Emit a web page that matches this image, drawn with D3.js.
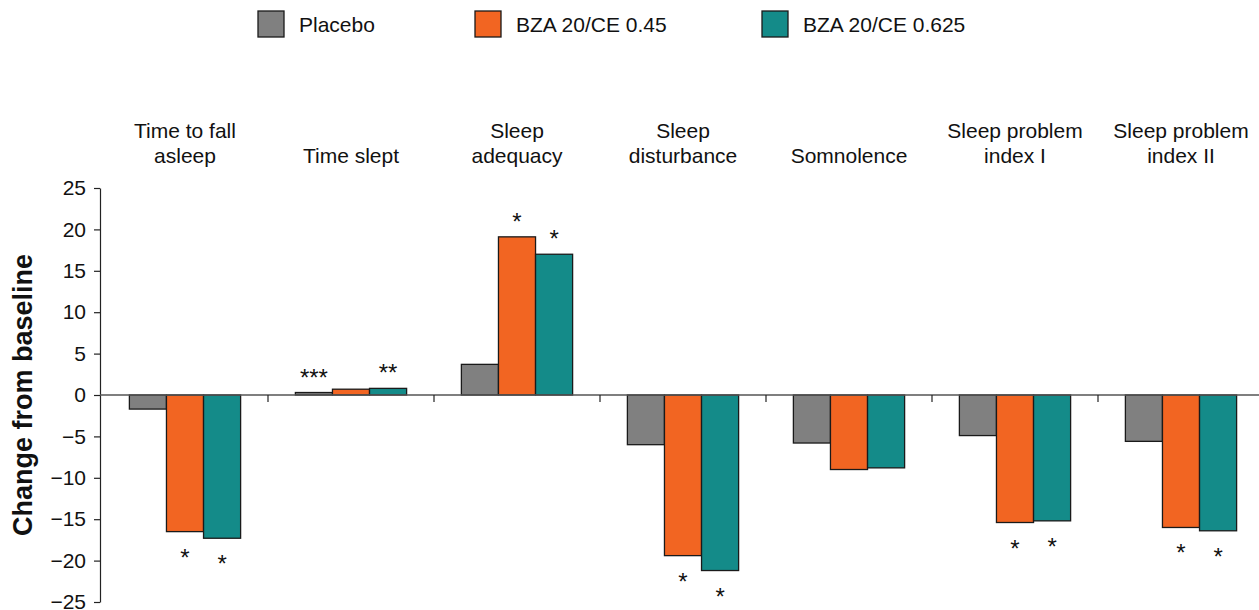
<!DOCTYPE html>
<html>
<head>
<meta charset="utf-8">
<script src="https://cdn.jsdelivr.net/npm/d3@7"></script>
<style>
  body { margin: 0; background: #fff; }
  svg { font-family: Arial, "Liberation Sans", sans-serif; }
</style>
</head>
<body>
<div id="chart"></div>
<script>
// categories (label lines), series and values
const categories = [
    ["Time to fall", "asleep"],
    ["Time slept"],
    ["Sleep", "adequacy"],
    ["Sleep", "disturbance"],
    ["Somnolence"],
    ["Sleep problem", "index I"],
    ["Sleep problem", "index II"]
];
const seriesNames = ["Placebo", "BZA 20/CE 0.45", "BZA 20/CE 0.625"];
const placebo = [-1.7, 0.3, 3.7, -6.0, -5.8, -4.9, -5.6];
const bza045 = [-16.5, 0.7, 19.1, -19.4, -9.0, -15.4, -16.0];
const bza0625 = [-17.3, 0.8, 17.0, -21.2, -8.8, -15.2, -16.4];
const stars045 = ["*", "", "*", "*", "", "*", "*"];
const starsPlacebo = ["", "***", "", "", "", "", ""];
const stars0625 = ["*", "**", "*", "*", "", "*", "*"];
const yTicks = [-25, -20, -15, -10, -5, 0, 5, 10, 15, 20, 25];

const
    width = 1259,
    height = 610,
    margin = { left: 100, top: 188, bottom: 602 },
    colors = ["#808080", "#f26522", "#148b89"],
    svg = d3.select("#chart").append("svg").attr("width", width).attr("height", height);

const values = [placebo, bza045, bza0625];
const stars = [starsPlacebo, stars045, stars0625];

const x = d3.scaleBand()
    .domain(d3.range(categories.length))
    .range([margin.left + 2, margin.left + 2 + 166 * categories.length])
    .paddingInner(0.33)
    .paddingOuter(0.165);

const xs = d3.scaleBand()
    .domain(d3.range(seriesNames.length))
    .range([0, x.bandwidth()]);

const y = d3.scaleLinear()
    .domain([-25, 25])
    .range([margin.bottom, margin.top]);

// y axis
svg.append("g")
    .attr("transform", `translate(${margin.left},0)`)
    .call(d3.axisLeft(y).tickValues(yTicks).tickSize(6).tickPadding(8).tickSizeOuter(0))
    .call(g => g.select(".domain").attr("stroke", "#222").attr("stroke-width", 1.2))
    .call(g => g.selectAll(".tick line").attr("stroke", "#222").attr("stroke-width", 1.2))
    .call(g => g.selectAll(".tick text")
        .attr("font-size", 21)
        .attr("fill", "#111")
        .style("font-family", "Arial, 'Liberation Sans', sans-serif"));

svg.append("text")
    .attr("transform", `translate(32,${y(0)}) rotate(-90)`)
    .attr("text-anchor", "middle")
    .attr("font-size", 27)
    .attr("font-weight", "bold")
    .attr("fill", "#111")
    .text("Change from baseline");

// bars
values.forEach((vals, s) => {
    svg.selectAll(".bar-" + s)
        .data(vals)
        .enter().append("rect")
        .attr("class", "bar-" + s)
        .attr("x", (d, i) => x(i) + xs(s))
        .attr("width", xs.bandwidth())
        .attr("y", d => y(Math.max(0, d)))
        .attr("height", d => Math.abs(y(d) - y(0)))
        .attr("fill", colors[s])
        .attr("stroke", "#1a1a1a")
        .attr("stroke-width", 1.3);
});

// zero line with category separators
svg.append("line")
    .attr("x1", margin.left)
    .attr("x2", width)
    .attr("y1", y(0))
    .attr("y2", y(0))
    .attr("stroke", "#555")
    .attr("stroke-width", 1.5);

svg.selectAll(".sep")
    .data(d3.range(1, categories.length))
    .enter().append("line")
    .attr("class", "sep")
    .attr("x1", i => x(i) - x.step() * x.paddingInner() / 2)
    .attr("x2", i => x(i) - x.step() * x.paddingInner() / 2)
    .attr("y1", y(0))
    .attr("y2", y(0) + 7)
    .attr("stroke", "#222")
    .attr("stroke-width", 1.2);

// significance stars
stars.forEach((arr, s) => {
    svg.selectAll(".star-" + s)
        .data(arr)
        .enter().append("text")
        .attr("class", "star-" + s)
        .attr("x", (d, i) => x(i) + xs(s) + xs.bandwidth() / 2)
        .attr("y", (d, i) => {
            const v = values[s][i];
            return v >= 0 ? y(v) - 7 : y(v) + 34;
        })
        .attr("text-anchor", "middle")
        .attr("font-size", 24)
        .attr("fill", "#111")
        .text(d => d);
});

// category labels, bottom aligned
categories.forEach((lines, i) => {
    const t = svg.append("text")
        .attr("text-anchor", "middle")
        .attr("font-size", 21)
        .attr("fill", "#111");
    lines.forEach((line, k) => {
        t.append("tspan")
            .attr("x", x(i) + x.bandwidth() / 2)
            .attr("y", 163 - (lines.length - 1 - k) * 25)
            .text(line);
    });
});

// legend
const legendX = [258, 475, 762];
seriesNames.forEach((name, s) => {
    svg.append("rect")
        .attr("x", legendX[s])
        .attr("y", 11)
        .attr("width", 26)
        .attr("height", 26)
        .attr("fill", colors[s])
        .attr("stroke", "#1a1a1a")
        .attr("stroke-width", 1.3);
    svg.append("text")
        .attr("x", legendX[s] + 41)
        .attr("y", 32)
        .attr("font-size", 21)
        .attr("fill", "#111")
        .text(name);
});
</script>
</body>
</html>
